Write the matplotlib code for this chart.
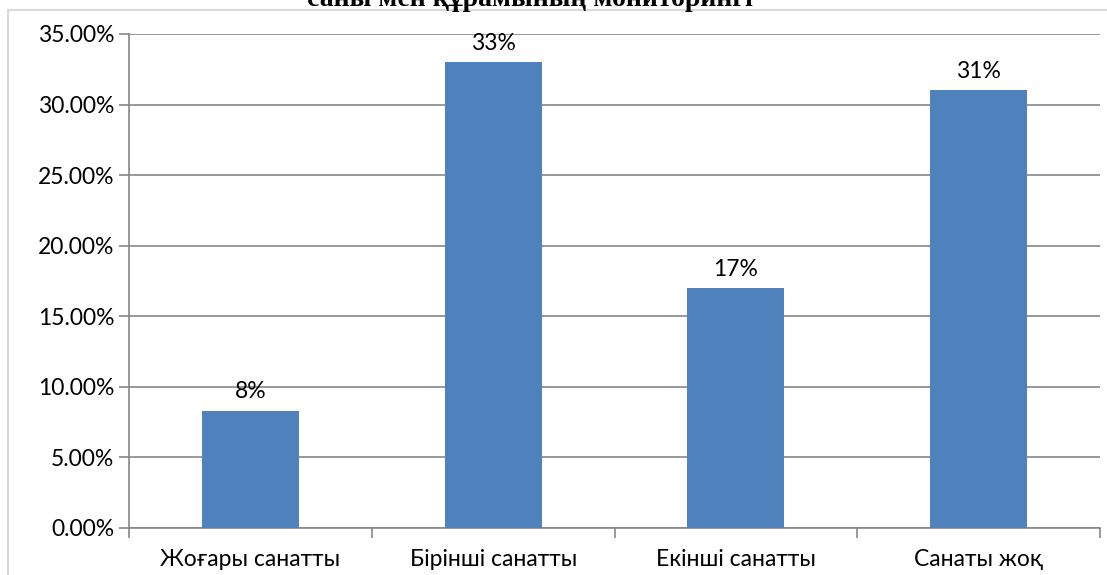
import matplotlib.pyplot as plt
from matplotlib.patches import Rectangle
from matplotlib.ticker import FuncFormatter

categories = ['Жоғары санатты', 'Бірінші санатты', 'Екінші санатты', 'Санаты жоқ']
shares = [8.3, 33.0, 17.0, 31.0]
bar_labels = ['8%', '33%', '17%', '31%']
title = 'саны мен құрамының мониторингі'

plt.rcParams['font.family'] = ['Lato', 'DejaVu Sans']

fig = plt.figure(figsize=(11.07, 5.75), dpi=100)
ax = fig.add_axes([129 / 1107, 47 / 575, 971 / 1107, 494 / 575])

# outer chart border, cut off by the image edge
fig.patches.append(Rectangle((8 / 1107, -0.1), 1.2, (575 - 10) / 575 + 0.1,
                             transform=fig.transFigure, fill=False,
                             edgecolor='#d9d9d9', linewidth=1.5))

# title sits mostly above the picture, only its lower part shows
fig.text(530 / 1107, 1 - 6 / 575, title, ha='center', va='baseline',
         fontsize=20, fontweight='bold', family='Liberation Serif')

x = range(len(categories))
ax.bar(x, shares, width=0.4, color='#4f81bd', zorder=3)
for i, (v, lab) in enumerate(zip(shares, bar_labels)):
    ax.text(i, v + 0.6, lab, ha='center', va='bottom', fontsize=16.5, color='black')

ax.set_xlim(-0.5, len(categories) - 0.5)
ax.set_ylim(0, 35)
ax.set_yticks([0, 5, 10, 15, 20, 25, 30, 35])
ax.yaxis.set_major_formatter(FuncFormatter(lambda v, p: f'{v:.2f}%'))
ax.grid(axis='y', color='#868686', linewidth=1.2, zorder=0)

ax.set_xticks([-0.5, 0.5, 1.5, 2.5, 3.5])
ax.set_xticklabels([])
ax.set_xticks(list(x), minor=True)
ax.set_xticklabels(categories, minor=True)
ax.tick_params(axis='x', which='minor', length=0, pad=15, labelsize=16.5)
ax.tick_params(axis='x', which='major', length=7.5, width=1.2, color='#868686')
ax.tick_params(axis='y', length=7.5, width=1.2, color='#868686', labelsize=16.5, pad=3)

for s in ['top', 'right']:
    ax.spines[s].set_visible(False)
for s in ['left', 'bottom']:
    ax.spines[s].set_color('#868686')
    ax.spines[s].set_linewidth(1.2)

fig.savefig('out.png', dpi=100)
